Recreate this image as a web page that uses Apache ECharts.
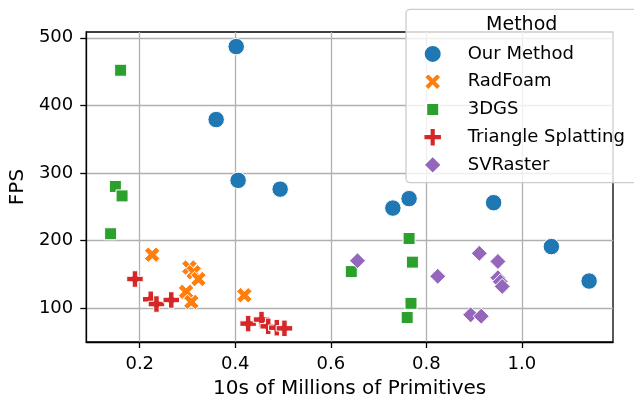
<!DOCTYPE html>
<html><head><meta charset="utf-8">
<script src="https://cdn.jsdelivr.net/npm/echarts@6/dist/echarts.min.js"></script>
<style>html,body{margin:0;padding:0;background:#fff}#c{width:634px;height:404px}</style>
</head><body><div id="c"></div>
<script>
// ---- data ----
const methods = ['Our Method', 'RadFoam', '3DGS', 'Triangle Splatting', 'SVRaster'];
const ourX = [0.402, 0.360, 0.406, 0.494, 0.730, 0.764, 0.941, 1.062, 1.141];
const ourY = [487, 379, 289, 276, 248, 262, 256, 191, 140];
const radX = [0.226, 0.304, 0.313, 0.323, 0.297, 0.308, 0.419];
const radY = [179, 160, 153, 143, 124, 109, 119];
const gsX = [0.160, 0.149, 0.163, 0.139, 0.643, 0.764, 0.771, 0.768, 0.760];
const gsY = [452, 280, 266, 210, 154, 203, 168, 107, 86];
const triX = [0.190, 0.223, 0.235, 0.266, 0.427, 0.455, 0.469, 0.487, 0.503];
const triY = [143, 113, 106, 112, 77, 83, 73, 71, 70];
const svX = [0.656, 0.824, 0.911, 0.950, 0.950, 0.955, 0.959, 0.893, 0.915];
const svY = [170, 147, 181, 169, 145, 139, 132, 90, 88];
const xTicks = [0.2, 0.4, 0.6, 0.8, 1.0];
const yTicks = [100, 200, 300, 400, 500];

const colors = ['#1f77b4', '#ff7f0e', '#2ca02c', '#d62728', '#9467bd'];
const xName = '10s of Millions of Primitives';
const yName = 'FPS';
const legendTitle = 'Method';

// marker shapes (matplotlib-like)
const P_CIRCLE = 'M1,0A1,1,0,1,1,-1,0A1,1,0,1,1,1,0Z';
const P_X = 'M-1,-2L0,-1L1,-2L2,-1L1,0L2,1L1,2L0,1L-1,2L-2,1L-1,0L-2,-1Z';
const P_SQ = 'M-1,-1L1,-1L1,1L-1,1Z';
const P_PLUS = 'M-1,-3L1,-3L1,-1L3,-1L3,1L1,1L1,3L-1,3L-1,1L-3,1L-3,-1L-1,-1Z';
const P_DIA = 'M0,-1L1,0L0,1L-1,0Z';
const shapes = [P_CIRCLE, P_X, P_SQ, P_PLUS, P_DIA];
const halfSpan = [1, 2, 1, 3, 1];
const sizes = [16.5, 15.5, 12, 16.5, 16];
const legendSizes = [18, 17.5, 13, 18.5, 18];
const LBOX = 20;
function padIcon(i) {
  const a = halfSpan[i] * LBOX / legendSizes[i];
  return 'path://M' + (-a) + ',' + (-a) + 'M' + a + ',' + a + shapes[i];
}
const xs = [ourX, radX, gsX, triX, svX];
const ys = [ourY, radY, gsY, triY, svY];

const series = methods.map((m, i) => ({
  name: m,
  type: 'scatter',
  data: xs[i].map((x, k) => [x, ys[i][k]]),
  symbol: 'path://' + shapes[i],
  symbolSize: sizes[i],
  itemStyle: { color: colors[i], borderColor: '#ffffff', borderWidth: 1, opacity: 1 },
  emphasis: { disabled: true },
  z: 2 + i
}));

const font = 'DejaVu Sans';
const chart = echarts.init(document.getElementById('c'), null, { renderer: 'canvas' });
chart.setOption({
  animation: false,
  backgroundColor: '#ffffff',
  textStyle: { fontFamily: font },
  grid: { left: 85, right: 21, top: 32, bottom: 58, show: true, borderColor: '#000', borderWidth: 1.3, backgroundColor: 'transparent' },
  xAxis: {
    type: 'value', min: 0.088, max: 1.191,
    name: xName, nameLocation: 'middle', nameGap: 37,
    nameTextStyle: { fontSize: 20, color: '#000', fontFamily: font },
    axisLine: { show: true, lineStyle: { color: '#000', width: 1.3 } },
    axisTick: { show: true, length: 6, lineStyle: { color: '#000', width: 1.3 }, customValues: xTicks },
    axisLabel: { fontSize: 18, color: '#000', margin: 13, fontFamily: font, customValues: xTicks, formatter: v => Number(v).toFixed(1) },
    splitLine: { show: true, lineStyle: { color: '#b0b0b0', width: 1.3 } }
  },
  yAxis: {
    type: 'value', min: 49.8, max: 508.6,
    name: yName, nameLocation: 'middle', nameGap: 57,
    nameTextStyle: { fontSize: 20, color: '#000', fontFamily: font },
    axisLine: { show: true, lineStyle: { color: '#000', width: 1.3 } },
    axisTick: { show: true, length: 6, lineStyle: { color: '#000', width: 1.3 }, customValues: yTicks },
    axisLabel: { fontSize: 18, color: '#000', margin: 13, fontFamily: font, customValues: yTicks, formatter: v => String(Math.round(v)) },
    splitLine: { show: true, lineStyle: { color: '#b0b0b0', width: 1.3 } }
  },
  legend: {
    orient: 'vertical', left: 406, top: 9.3,
    padding: [33.6, 40, 6.7, 15.7],
    itemWidth: LBOX, itemHeight: LBOX, itemGap: 5.75,
    backgroundColor: 'rgba(255,255,255,0.8)', borderColor: '#cccccc', borderWidth: 1.3, borderRadius: 4,
    textStyle: { fontSize: 18, color: '#000', fontFamily: font, padding: [0, 0, 0, 20] },
    data: methods.map((m, i) => ({ name: m, icon: padIcon(i) })),
    selectedMode: false,
    z: 10
  },
  graphic: [{
    type: 'text', z: 100, zlevel: 0,
    style: { x: 521.7, y: 25, text: legendTitle, fontSize: 19, fontFamily: font, fill: '#000', align: 'center', verticalAlign: 'middle' }
  }],
  series: series
});
</script></body></html>
